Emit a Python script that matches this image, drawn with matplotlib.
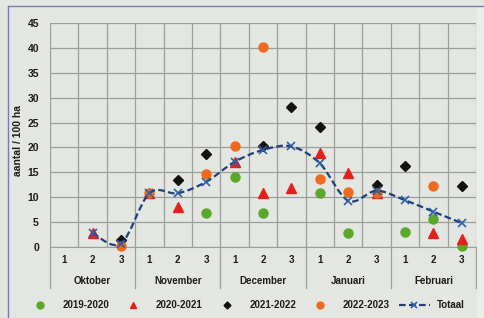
import numpy as np
import matplotlib
matplotlib.use("Agg")
import matplotlib.pyplot as plt
from matplotlib.path import Path
from matplotlib.patches import PathPatch, Rectangle
from matplotlib.lines import Line2D

plt.rcParams["font.family"] = ["Liberation Sans", "DejaVu Sans"]

nan = np.nan
months = ["Oktober", "November", "December", "Januari", "Februari"]
decades = ["1", "2", "3"] * 5

# aantal / 100 ha per decade (Okt-1 .. Feb-3)
s_2019 = [nan, nan, nan, nan, nan, 6.9, 14.1, 6.8, nan, 10.9, 2.9, nan, 3.1, 5.6, 0.2]
s_2020 = [nan, 2.8, nan, 10.8, 8.0, nan, 17.1, 10.8, 11.9, 18.8, 14.8, 10.8, nan, 2.9, 1.6]
s_2021 = [nan, nan, 1.5, nan, 13.5, 18.7, nan, 20.3, 28.2, 24.2, nan, 12.5, 16.3, nan, 12.3]
s_2022 = [nan, nan, 0.2, 10.8, nan, 14.7, 20.2, 40.2, nan, 13.6, 11.0, 10.8, nan, 12.3, nan]
totaal = [nan, 2.8, 0.7, 10.8, 10.8, 13.1, 17.1, 19.5, 20.2, 16.8, 9.3, 11.3, 9.4, 7.1, 4.8]

BG = "#e4e6e2"
GRID = "#9b9e9a"
TXT = "#1c1c1c"
C_TOT = "#213f78"


def smooth_path(xs, ys):
    """Excel-like smoothed line: cubic Bezier segments through the points."""
    pts = [(x, y) for x, y in zip(xs, ys) if not np.isnan(y)]
    verts = [pts[0]]
    codes = [Path.MOVETO]
    n = len(pts)
    for i in range(n - 1):
        p0 = pts[max(i - 1, 0)]
        p1 = pts[i]
        p2 = pts[i + 1]
        p3 = pts[min(i + 2, n - 1)]
        c1 = (p1[0] + (p2[0] - p0[0]) / 6, p1[1] + (p2[1] - p0[1]) / 6)
        c2 = (p2[0] - (p3[0] - p1[0]) / 6, p2[1] - (p3[1] - p1[1]) / 6)
        verts += [c1, c2, p2]
        codes += [Path.CURVE4] * 3
    return Path(verts, codes)


fig = plt.figure(figsize=(4.84, 3.18), dpi=100, facecolor=BG)

# lighter strip at the right edge and the blue frame (top + left only)
fig.patches.append(Rectangle((477 / 484, 0), 7 / 484, 1 - 6 / 318,
                             transform=fig.transFigure, color="#ebedea", lw=0))
fig.add_artist(Line2D([8 / 484, 1], [1 - 6 / 318] * 2, transform=fig.transFigure,
                      color="#7b78b4", lw=1.0))
fig.add_artist(Line2D([8 / 484] * 2, [0, 1 - 6 / 318], transform=fig.transFigure,
                      color="#7b78b4", lw=1.0))

ax = fig.add_axes([50 / 484, 1 - 247 / 318, 426 / 484, 224 / 318], facecolor=BG)

x = np.arange(len(decades))

ax.plot(x, s_2019, linestyle="none", marker="o", ms=6.5, color="#5aa82a",
        clip_on=False, zorder=3)
ax.plot(x, s_2020, linestyle="none", marker="^", ms=7, color="#e4201c",
        clip_on=False, zorder=3)
ax.plot(x, s_2021, linestyle="none", marker="D", ms=5, color="#111111",
        clip_on=False, zorder=3)
ax.plot(x, s_2022, linestyle="none", marker="o", ms=6.5, color="#f06a1e",
        clip_on=False, zorder=3)

ax.add_patch(PathPatch(smooth_path(x, totaal), fill=False, edgecolor=C_TOT,
                       lw=1.6, linestyle=(0, (3, 1.5)), zorder=4))
ax.plot(x, totaal, linestyle="none", marker="x", ms=5.5, mew=1.2,
        color="#2f5ea8", zorder=5)

ax.set_xlim(-0.5, 14.5)
ax.set_ylim(0, 45)
ax.set_yticks(np.arange(0, 46, 5))
ax.set_xticks(x)
ax.set_xticklabels(decades)
ax.set_xticks(np.arange(-0.5, 15, 1), minor=True)
ax.grid(True, which="minor", axis="x", color=GRID, lw=0.9)
ax.grid(True, which="major", axis="y", color=GRID, lw=0.9)
ax.set_axisbelow(True)
for side in ["top", "right", "left"]:
    ax.spines[side].set_visible(False)
ax.spines["bottom"].set_color(GRID)
ax.tick_params(which="both", length=0)
ax.tick_params(axis="x", pad=6, labelsize=7, labelcolor=TXT)
ax.tick_params(axis="y", pad=8, labelsize=7.5, labelcolor=TXT)
for lab in ax.get_xticklabels() + ax.get_yticklabels():
    lab.set_fontweight("bold")

# month labels and separators below the axis
trans = ax.get_xaxis_transform()
for i, m in enumerate(months):
    ax.text(3 * i + 1, -0.152, m, transform=trans, ha="center", va="center",
            fontsize=7, fontweight="bold", color=TXT)
for b in np.arange(-0.5, 15, 3):
    ax.add_line(Line2D([b, b], [0, -0.185], transform=trans, color=GRID,
                       lw=0.9, clip_on=False))

fig.text(18 / 484, 1 - 141 / 318, "aantal / 100 ha", rotation=90,
         ha="center", va="center", fontsize=7.5, fontweight="bold", color=TXT)

handles = [
    Line2D([], [], linestyle="none", marker="o", ms=5, color="#5aa82a"),
    Line2D([], [], linestyle="none", marker="^", ms=5, color="#e4201c"),
    Line2D([], [], linestyle="none", marker="D", ms=3.5, color="#111111"),
    Line2D([], [], linestyle="none", marker="o", ms=5, color="#f06a1e"),
    Line2D([], [], linestyle=(0, (3, 1.5)), lw=1.6, color=C_TOT, marker="x",
           ms=5, mew=1.2, mec="#2f5ea8"),
]
labels = ["2019-2020", "2020-2021", "2021-2022", "2022-2023", "Totaal"]
leg = fig.legend(handles, labels, loc="center", bbox_to_anchor=(0.505, 1 - 305 / 318),
                 ncol=5, frameon=False, handlelength=3.2, handletextpad=0.7,
                 columnspacing=0.9, prop={"size": 7, "weight": "bold"})
for t in leg.get_texts():
    t.set_color(TXT)

fig.savefig("out.png", dpi=100, facecolor=BG)
